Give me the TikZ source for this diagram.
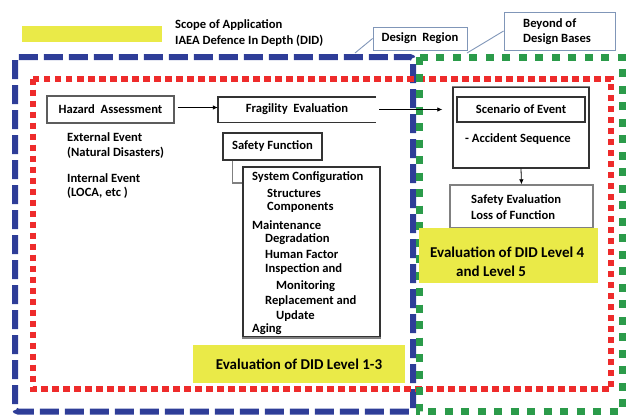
\documentclass[tikz,border=0pt]{standalone}
\usepackage{fontspec}
\setmainfont{Carlito}
\usetikzlibrary{arrows.meta}
\definecolor{didblue}{HTML}{2E3D98}
\definecolor{didred}{HTML}{EE2B2B}
\definecolor{didgreen}{HTML}{2B9B4A}
\definecolor{didyellow}{HTML}{EAEA48}
\definecolor{calloutc}{HTML}{8096B8}
\definecolor{boxdark}{HTML}{333333}
\definecolor{boxgray}{HTML}{808080}
\tikzset{
  smallfont/.style={font=\bfseries\fontsize{12.6}{14}\selectfont},
  bigfont/.style={font=\bfseries\fontsize{15}{17}\selectfont},
  box/.style={draw=boxdark, line width=1.4pt, inner sep=0pt, minimum width=#1},
  boxh/.style={minimum height=#1},
  txt/.style={anchor=west, inner sep=0pt, smallfont},
  conn/.style={line width=0.8pt, -{Latex[length=5pt,width=4.5pt]}},
  yelbox/.style={fill=didyellow, draw=none, inner sep=0pt},
  calloutbox/.style={draw=calloutc, line width=0.8pt, fill=white, inner sep=0pt},
  calloutline/.style={draw=calloutc, line width=0.9pt},
}
\begin{document}
\begin{tikzpicture}[x=1pt,y=-1pt]
\useasboundingbox (0,0) rectangle (627,415);
% region frames
\draw[didblue, line width=6pt, dash pattern=on 19pt off 6pt, rounded corners=3pt] (15,57) rectangle (413,411.5);
\draw[didred, line width=6pt, dash pattern=on 6.5pt off 4.5pt] (32.5,78.5) rectangle (611,389);
\draw[didgreen, line width=7pt, dash pattern=on 8pt off 8.5pt] (419,57) rectangle (622,411);
% legend
\node[yelbox, minimum width=140pt, minimum height=16pt] (legend) at (92,34) {};
\node[txt] (scope) at (175,25) {Scope of Application};
\node[txt] (iaea) at (175,41) {IAEA Defence In Depth (DID)};
% callouts
\node[calloutbox, minimum width=94pt, minimum height=23pt, smallfont] (dr) at (420,38.5) {Design\ \ Region};
\coordinate (drtip) at (355,53);
\draw[calloutline] (dr.west) -- (drtip);
\node[calloutbox, minimum width=111pt, minimum height=38pt] (by) at (559.5,31) {};
\node[txt] (by1) at (523,24) {Beyond of};
\node[txt] (by2) at (523,39) {Design Bases};
\coordinate (bytip) at (467,53);
\draw[calloutline] (by.west) -- (bytip);
% hazard
\node[box=127pt, boxh=27pt, draw=boxdark!80, smallfont] (haz) at (110.5,109.5) {Hazard\ \ Assessment};
\node[txt] (ext1) at (67,137) {External Event};
\node[txt] (ext2) at (67,153) {(Natural Disasters)};
\node[txt] (int1) at (67,178) {Internal Event};
\node[txt] (int2) at (67,193) {(LOCA, etc )};
% fragility (open at right)
\node[inner sep=0pt, minimum width=158pt, minimum height=25pt, smallfont] (frag) at (297,109.5) {Fragility\ \ Evaluation};
\draw[boxdark, line width=1.4pt] (frag.north east) -- (frag.north west) -- (frag.south west) -- (frag.south east);
\draw[conn] (haz.east) ++(3,-2) coordinate (hazout) -- (frag.west |- hazout);
% safety function
\node[box=99pt, boxh=27pt, smallfont] (sf) at (272.5,146.5) {Safety Function};
\node[box=137pt, boxh=170pt, draw=boxdark] (sys) at (311.5,252) {};
\draw[boxgray, line width=1.6pt] (sys.south west) -- (sys.south east);
\draw[boxgray, line width=1.4pt] (sf.south west) ++(10,0) coordinate (sfout) |- (sys.west |- 0,183);
\node[txt] (s1) at (252,177) {System Configuration};
\node[txt] (s2) at (267,193) {Structures};
\node[txt] (s3) at (267,207) {Components};
\node[txt] (s4) at (252,225) {Maintenance};
\node[txt] (s5) at (265,239) {Degradation};
\node[txt] (s6) at (265,254) {Human Factor};
\node[txt] (s7) at (265,269) {Inspection and};
\node[txt] (s8) at (276,286) {Monitoring};
\node[txt] (s9) at (265,301) {Replacement and};
\node[txt] (s10) at (276,316) {Update};
\node[txt] (s11) at (252,329) {Aging};
% scenario
\node[box=136pt, boxh=81pt, draw=boxdark, fill=white] (scen) at (521,127.5) {};
\draw[boxgray, line width=1.4pt] (scen.north west) -- (scen.north east);
\node[box=128pt, boxh=25pt, draw=boxdark, line width=1.6pt, smallfont] (scin) at (521,109.5) {Scenario of Event};
\node[txt] (acc) at (465,139) {- Accident Sequence};
\draw[conn] (frag.east) ++(3,0) coordinate (fragout) -- ([xshift=-10pt]scen.west |- fragout);
% safety evaluation
\node[box=143pt, boxh=43pt, draw=boxgray, fill=white] (se) at (521.5,206.5) {};
\node[txt] (se1) at (471,200) {Safety Evaluation};
\node[txt] (se2) at (471,215) {Loss of Function};
\draw[conn] (scen.south) -- (se.north);
% evaluation labels
\node[yelbox, minimum width=179pt, minimum height=55pt] (l45) at (508.5,255.5) {};
\node[anchor=west, inner sep=0pt, bigfont] (l45a) at (430,252) {Evaluation of DID Level 4};
\node[anchor=west, inner sep=0pt, bigfont] (l45b) at (456,271) {and\ Level 5};
\node[yelbox, minimum width=212pt, minimum height=38pt, bigfont] (l13) at (299,364) {Evaluation of DID Level 1-3};
\end{tikzpicture}
\end{document}
